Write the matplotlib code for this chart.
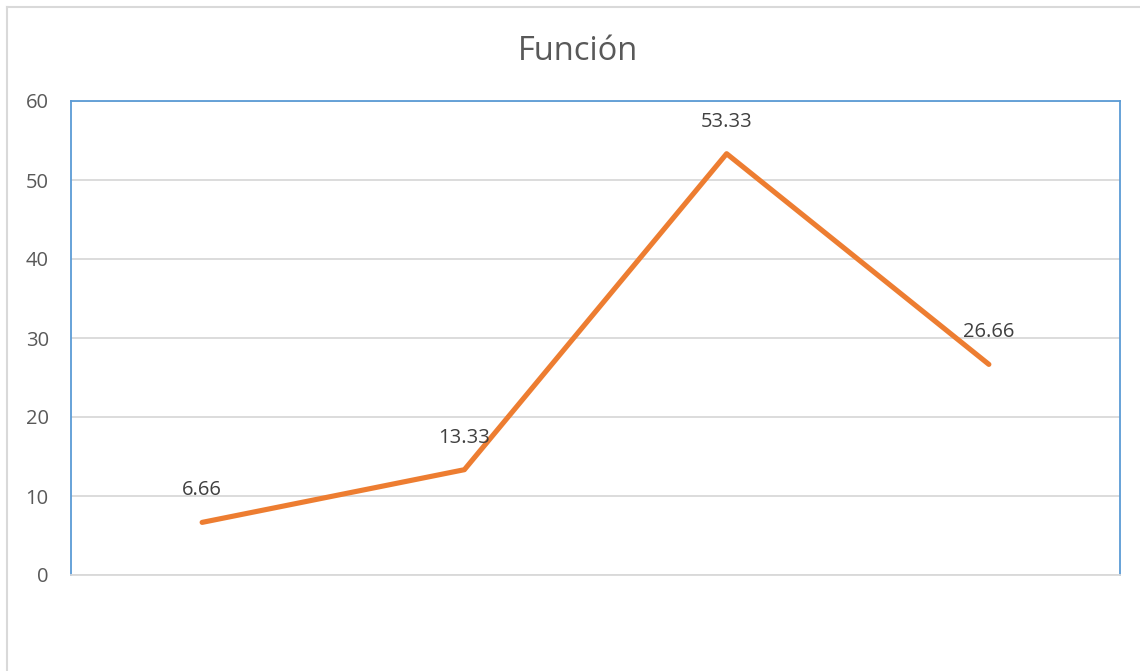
import matplotlib
matplotlib.use("Agg")
import matplotlib.pyplot as plt
from matplotlib.lines import Line2D

categories = ["1", "2", "3", "4"]
values = [6.66, 13.33, 53.33, 26.66]
labels = ["6.66", "13.33", "53.33", "26.66"]
yticks = [0, 10, 20, 30, 40, 50, 60]

W, H = 1140, 671
fig = plt.figure(figsize=(W / 100, H / 100), dpi=100)
fig.patch.set_facecolor("white")

# chart frame (left and top edges visible)
fig.add_artist(Line2D([7 / W, 7 / W], [0, 1 - 7 / H], color="#d9d9d9", lw=1.5, transform=fig.transFigure))
fig.add_artist(Line2D([7 / W, 1], [1 - 7 / H, 1 - 7 / H], color="#d9d9d9", lw=1.5, transform=fig.transFigure))

left, right, top, bottom = 71, 1120, 101, 575
ax = fig.add_axes([left / W, 1 - bottom / H, (right - left) / W, (bottom - top) / H])

x = [i + 0.5 for i in range(len(values))]
ax.plot(x, values, color="#ED7D31", lw=3.7, solid_capstyle="round", solid_joinstyle="round", zorder=3)

for xi, v, lab in zip(x, values, labels):
    ax.annotate(lab, (xi, v), xytext=(0, 23), textcoords="offset points",
                ha="center", va="center", fontsize=14.5, color="#404040", family="Open Sans", zorder=4)

ax.set_xlim(0, len(values))
ax.set_ylim(0, 60)
ax.set_yticks(yticks)
ax.set_yticklabels([str(t) for t in yticks], fontsize=14.5, color="#595959", family="Open Sans")
ax.set_xticks([])
ax.tick_params(axis="y", length=0, pad=16)
ax.yaxis.grid(True, color="#d9d9d9", lw=1.3)
ax.set_axisbelow(True)

for side in ["left", "top", "right"]:
    ax.spines[side].set_color("#5b9bd5")
    ax.spines[side].set_linewidth(1.3)
ax.spines["bottom"].set_color("#d9d9d9")
ax.spines["bottom"].set_linewidth(1.3)

fig.text(578 / W, 1 - 52 / H, "Función", ha="center", va="center", fontsize=23.5,
         color="#595959", family="Open Sans")

fig.savefig("out.png", dpi=100)
